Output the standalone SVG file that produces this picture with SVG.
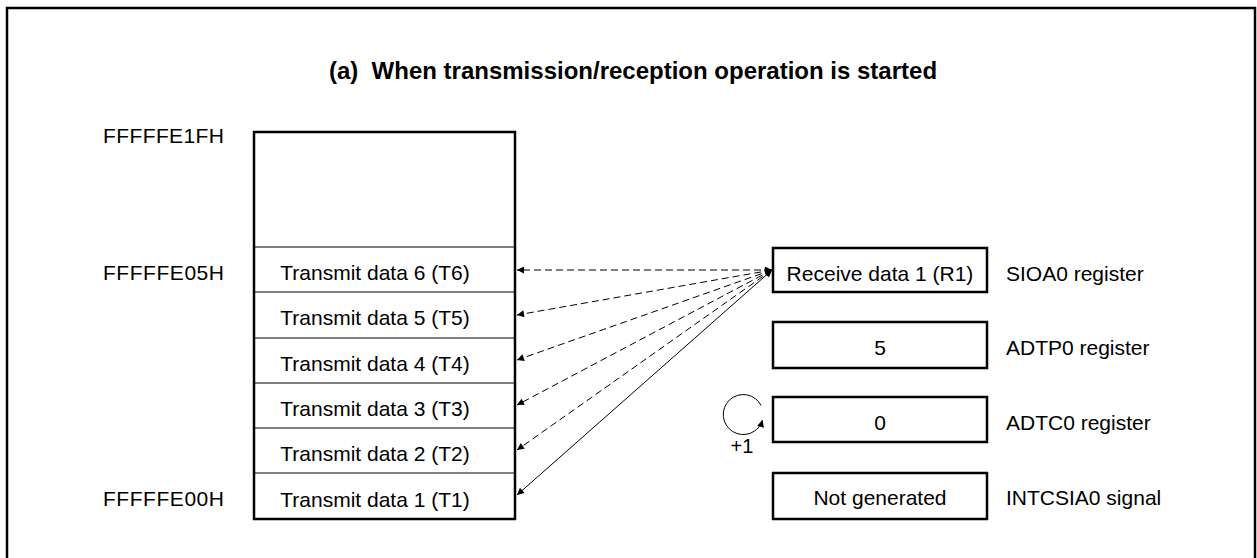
<svg xmlns="http://www.w3.org/2000/svg" width="1257" height="558" viewBox="0 0 1257 558">
<style>
text{font-family:"Liberation Sans",Arial,sans-serif;font-size:21px;fill:#000}
.t{font-weight:bold;font-size:24px}
.m{text-anchor:middle}
.box{fill:#fff;stroke:#000;stroke-width:2.5}
.div{stroke:#000;stroke-width:1}
.c{stroke:#000;stroke-width:1;fill:none;marker-start:url(#ah);marker-end:url(#ah)}
.d{stroke-dasharray:7 4}
</style>
<defs>
<marker id="ah" viewBox="0 0 10 10" refX="10" refY="5" markerWidth="10" markerHeight="7" markerUnits="userSpaceOnUse" orient="auto-start-reverse">
<path d="M0,0 L10,5 L0,10 z" fill="#000"/>
</marker>
<marker id="ah2" viewBox="0 0 10 10" refX="10" refY="5" markerWidth="10" markerHeight="7" markerUnits="userSpaceOnUse" orient="auto">
<path d="M0,0 L10,5 L0,10 z" fill="#000"/>
</marker>
</defs>
<rect x="0" y="0" width="1257" height="558" fill="#fff"/>
<rect x="7" y="8" width="1248" height="600" fill="none" stroke="#000" stroke-width="2.5"/>
<text class="t m" x="633" y="79">(a)&#160; When transmission/reception operation is started</text>
<g id="addr">
<text x="103" y="143" textLength="121">FFFFFE1FH</text>
<text x="103" y="280" textLength="121">FFFFFE05H</text>
<text x="103" y="506" textLength="121">FFFFFE00H</text>
</g>
<g id="memory">
<rect class="box" x="254" y="132" width="261" height="387"/>
<line class="div" x1="254" y1="247" x2="515" y2="247"/>
<line class="div" x1="254" y1="292" x2="515" y2="292"/>
<line class="div" x1="254" y1="338" x2="515" y2="338"/>
<line class="div" x1="254" y1="383" x2="515" y2="383"/>
<line class="div" x1="254" y1="428" x2="515" y2="428"/>
<line class="div" x1="254" y1="473" x2="515" y2="473"/>
<text class="m" x="375" y="280">Transmit data 6 (T6)</text>
<text class="m" x="375" y="325">Transmit data 5 (T5)</text>
<text class="m" x="375" y="371">Transmit data 4 (T4)</text>
<text class="m" x="375" y="416">Transmit data 3 (T3)</text>
<text class="m" x="375" y="461">Transmit data 2 (T2)</text>
<text class="m" x="375" y="507">Transmit data 1 (T1)</text>
</g>
<g id="sioa0">
<rect class="box" x="773" y="248" width="214" height="44"/>
<text class="m" x="880" y="281">Receive data 1 (R1)</text>
<text x="1006" y="281">SIOA0 register</text>
</g>
<g id="adtp0">
<rect class="box" x="773" y="322" width="214" height="46"/>
<text class="m" x="880" y="355">5</text>
<text x="1006" y="355">ADTP0 register</text>
</g>
<g id="adtc0">
<rect class="box" x="773" y="397" width="214" height="45"/>
<text class="m" x="880" y="430">0</text>
<text x="1006" y="430">ADTC0 register</text>
<path d="M761.1,405.5 A20,20 0 1 0 762.5,420" fill="none" stroke="#000" stroke-width="1" marker-end="url(#ah2)"/>
<text class="m" x="742" y="453" style="font-size:20px">+1</text>
</g>
<g id="intcsia0">
<rect class="box" x="773" y="473" width="214" height="46"/>
<text class="m" x="880" y="505">Not generated</text>
<text x="1006" y="505">INTCSIA0 signal</text>
</g>
<g id="connectors">
<line class="c d" x1="772" y1="270" x2="517" y2="270"/>
<line class="c d" x1="772" y1="270" x2="517" y2="315"/>
<line class="c d" x1="772" y1="270" x2="517" y2="360"/>
<line class="c d" x1="772" y1="270" x2="517" y2="405"/>
<line class="c d" x1="772" y1="270" x2="517" y2="450"/>
<line class="c" x1="772" y1="270" x2="517" y2="495"/>
</g>
</svg>
